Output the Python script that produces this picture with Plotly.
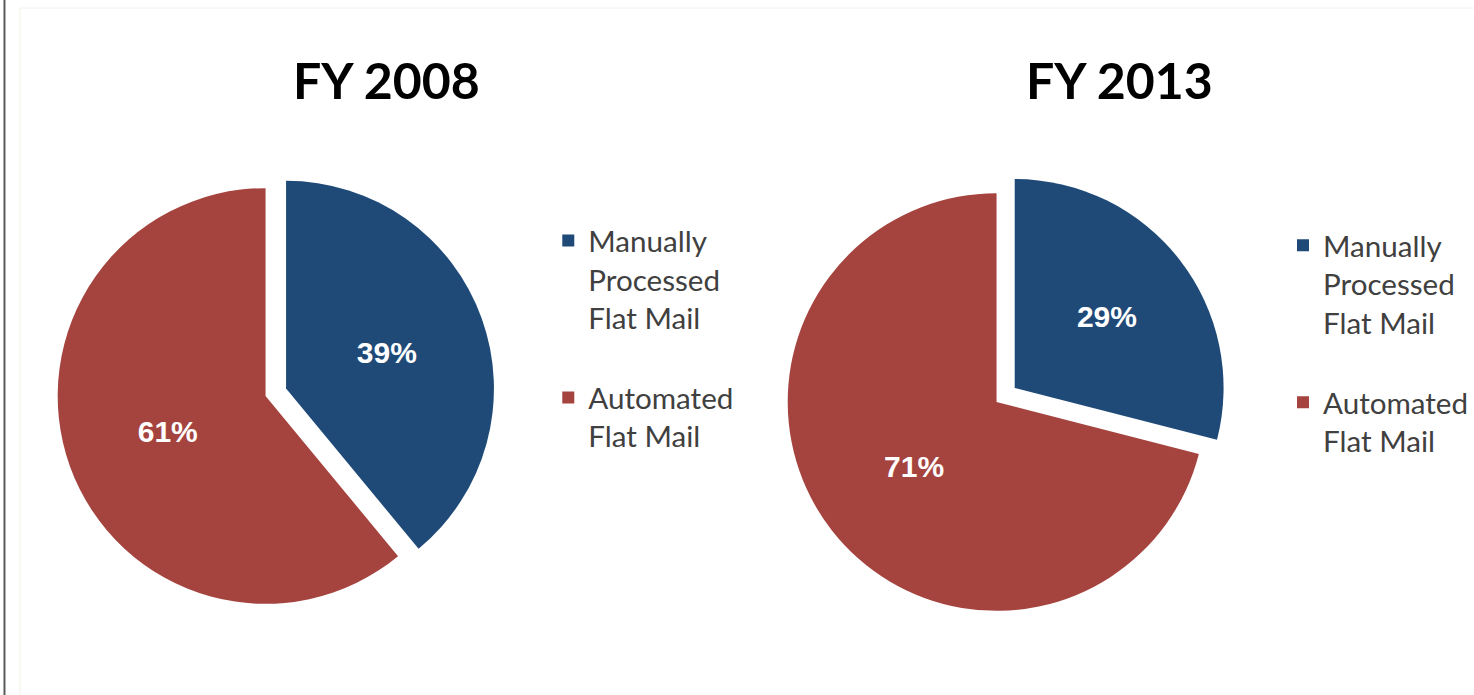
import plotly.graph_objects as go

labels_a = ["Manually<br>Processed<br>Flat Mail<br> ", "Automated<br>Flat Mail"]
labels_b = ["Manually<br>Processed<br>Flat Mail<br>  ", "Automated<br>Flat Mail "]
fy2008 = [39, 61]
fy2013 = [29, 71]
titles = ["FY 2008", "FY 2013"]
colors = ["#1F4A78", "#A5443F"]

W, H = 1474, 695

def dom(cx, cy, r, pull):
    h = r * (1 + pull)
    return dict(x=[(cx - h) / W, (cx + h) / W], y=[(H - cy - h) / H, (H - cy + h) / H])

pctfont = dict(family="Liberation Sans, Arial", size=30, color="white", weight="bold")

fig = go.Figure()
fig.add_trace(go.Pie(
    labels=labels_a, values=fy2008, sort=False, direction="clockwise", rotation=0,
    pull=[0.105, 0], marker=dict(colors=colors, line=dict(width=0)),
    textposition="inside", insidetextorientation="horizontal",
    texttemplate="%{value}%", textfont=pctfont,
    domain=dom(267, 396, 209, 0.105), legend="legend", hoverinfo="label+value"))
fig.add_trace(go.Pie(
    labels=labels_b, values=fy2013, sort=False, direction="clockwise", rotation=0,
    pull=[0.11, 0], marker=dict(colors=colors, line=dict(width=0)),
    textposition="inside", insidetextorientation="horizontal",
    texttemplate="%{value}%", textfont=pctfont,
    domain=dom(1002, 402, 210, 0.11), legend="legend2", hoverinfo="label+value"))

legfont = dict(family="Lato", size=29.6, color="#404040")
fig.update_layout(
    width=W, height=H, margin=dict(l=0, r=0, t=0, b=0),
    paper_bgcolor="white", plot_bgcolor="white",
    legend=dict(x=0.374, y=0.691, xanchor="left", yanchor="top", font=legfont,
                valign="top", bgcolor="rgba(0,0,0,0)"),
    legend2=dict(x=0.8752, y=0.684, xanchor="left", yanchor="top", font=legfont,
                 valign="top", bgcolor="rgba(0,0,0,0)"),
    annotations=[
        dict(text=titles[0], x=389 / W, y=1 - 80 / H, xref="paper", yref="paper",
             showarrow=False, xanchor="center", yanchor="middle",
             font=dict(family="Lato", size=50, color="black", weight="bold")),
        dict(text=titles[1], x=1126 / W, y=1 - 80 / H, xref="paper", yref="paper",
             showarrow=False, xanchor="center", yanchor="middle",
             font=dict(family="Lato", size=50, color="black", weight="bold")),
    ],
    shapes=[
        dict(type="line", xref="paper", yref="paper", x0=4.5 / W, x1=4.5 / W, y0=0, y1=1,
             line=dict(color="#5a5a5a", width=2)),
        dict(type="rect", xref="paper", yref="paper", x0=20 / W, x1=1.01, y0=-0.01, y1=1 - 8 / H,
             line=dict(color="#f2f2ea", width=1)),
    ],
)
fig.write_html("out.html")
